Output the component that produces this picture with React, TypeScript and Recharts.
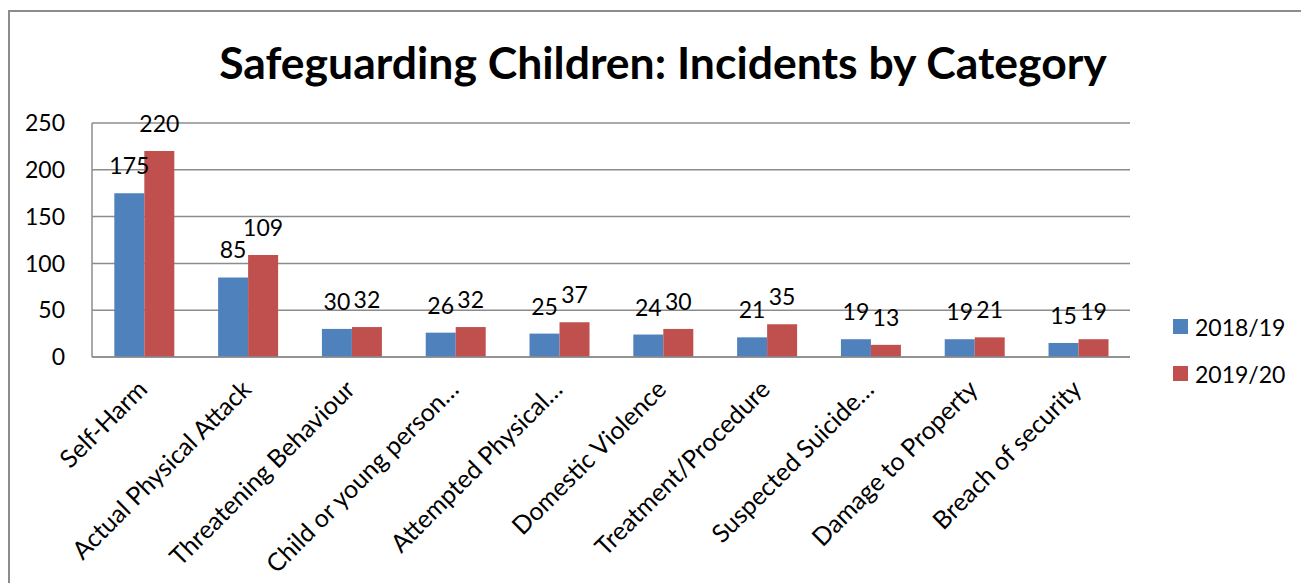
import React from "react";
import { BarChart, Bar, XAxis, YAxis, CartesianGrid, LabelList } from "recharts";

const categories = [
  "Self-Harm",
  "Actual Physical Attack",
  "Threatening Behaviour",
  "Child or young person…",
  "Attempted Physical…",
  "Domestic Violence",
  "Treatment/Procedure",
  "Suspected Suicide…",
  "Damage to Property",
  "Breach of security",
];
const series1819 = [175, 85, 30, 26, 25, 24, 21, 19, 19, 15];
const series1920 = [220, 109, 32, 32, 37, 30, 35, 13, 21, 19];
const yTicks = [0, 50, 100, 150, 200, 250];

const BLUE = "#4F81BD";
const RED = "#C0504D";
const GREY = "#8c8c8c";
const FONT = "Lato, 'Open Sans', sans-serif";

const data = categories.map((name, i) => ({
  name,
  y1819: series1819[i],
  y1920: series1920[i],
}));

const CatTick = (props: any) => {
  const { x, y, payload } = props;
  return (
    <g transform={`translate(${x + 5},${y})`}>
      <text x={0} y={0} textAnchor="end" transform="rotate(-45)" fontSize={25} fontFamily={FONT} fill="#000">
        {payload.value}
      </text>
    </g>
  );
};

const ValueLabel = (props: any) => {
  const { x, y, width, value } = props;
  return (
    <text x={x + width / 2} y={y - 19} textAnchor="middle" fontSize={23} fontFamily={FONT} fill="#000">
      {value}
    </text>
  );
};

export default function App() {
  return (
    <div style={{ position: "absolute", left: 0, top: 0, width: 1301, height: 583, background: "#fff", overflow: "hidden", fontFamily: FONT }}>
      <div
        style={{
          position: "absolute",
          left: 8,
          top: 10,
          width: 1400,
          height: 700,
          borderLeft: `2px solid ${GREY}`,
          borderTop: `2px solid ${GREY}`,
        }}
      />
      <div
        style={{
          position: "absolute",
          left: 663,
          top: 40,
          transform: "translateX(-50%)",
          whiteSpace: "nowrap",
          fontSize: 44.5,
          lineHeight: 1,
          fontWeight: 700,
          color: "#000",
        }}
      >
        Safeguarding Children: Incidents by Category
      </div>
      <div style={{ position: "absolute", left: 0, top: 0 }}>
        <BarChart
          width={1301}
          height={583}
          data={data}
          margin={{ top: 123, right: 171, bottom: 0, left: 0 }}
          barCategoryGap="21.5%"
          barGap={0}
        >
          <CartesianGrid vertical={false} stroke={GREY} strokeWidth={1.5} />
          <XAxis
            dataKey="name"
            interval={0}
            tickLine={false}
            tickSize={0}
            tickMargin={34}
            axisLine={{ stroke: GREY, strokeWidth: 1.5 }}
            tick={<CatTick />}
            height={226}
          />
          <YAxis
            width={92}
            domain={[0, 250]}
            ticks={yTicks}
            tickLine={false}
            tickSize={0}
            tickMargin={27}
            axisLine={{ stroke: GREY, strokeWidth: 1.5 }}
            tick={{ fontSize: 23, fontFamily: FONT, fill: "#000" }}
          />
          <Bar dataKey="y1819" name="2018/19" fill={BLUE} isAnimationActive={false}>
            <LabelList dataKey="y1819" content={<ValueLabel />} />
          </Bar>
          <Bar dataKey="y1920" name="2019/20" fill={RED} isAnimationActive={false}>
            <LabelList dataKey="y1920" content={<ValueLabel />} />
          </Bar>
        </BarChart>
      </div>
      <div style={{ position: "absolute", left: 1173, top: 303, fontSize: 23, color: "#000" }}>
        {[
          { label: "2018/19", color: BLUE },
          { label: "2019/20", color: RED },
        ].map((item) => (
          <div key={item.label} style={{ display: "flex", alignItems: "center", height: 47 }}>
            <span style={{ display: "inline-block", width: 15, height: 15, background: item.color, marginRight: 7 }} />
            <span>{item.label}</span>
          </div>
        ))}
      </div>
    </div>
  );
}
